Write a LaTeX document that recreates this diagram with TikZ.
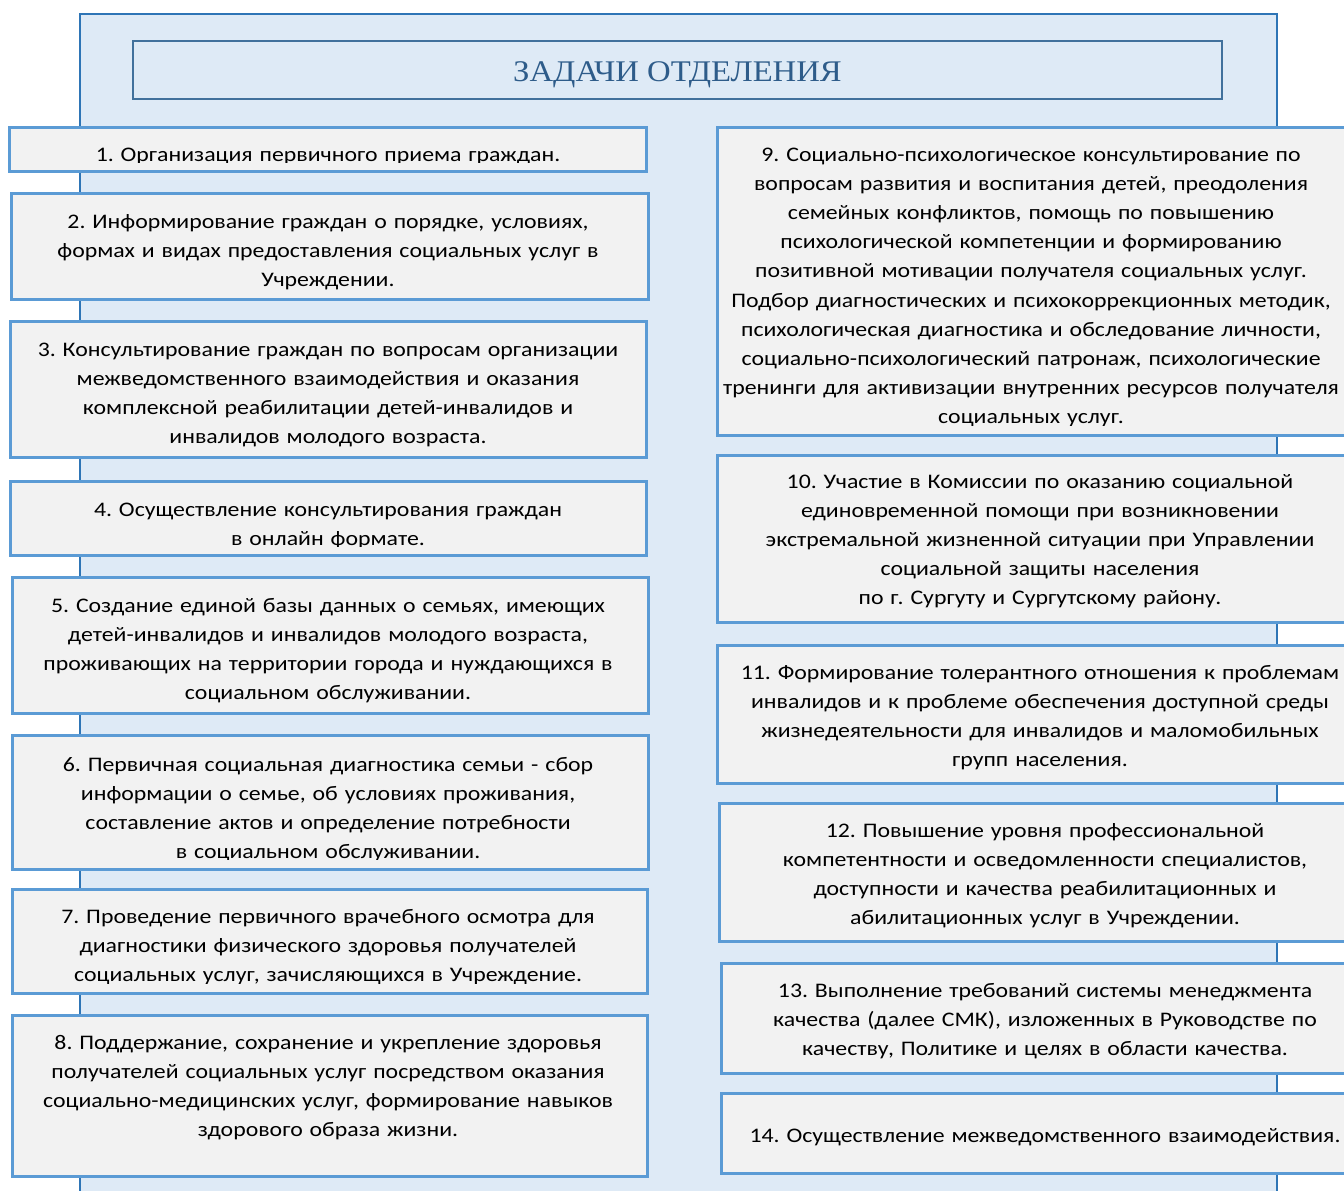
\documentclass[tikz,border=0pt]{standalone}
\usepackage{fontspec}
\setmainfont{Carlito}[FakeStretch=1.15]
\newfontfamily\titlefont{Liberation Serif}[FakeStretch=1.09]
\usepackage{xcolor}
\usetikzlibrary{positioning}
\definecolor{panelblue}{HTML}{DEEAF6}
\definecolor{panelline}{HTML}{2E75B6}
\definecolor{titleline}{HTML}{41719C}
\definecolor{titletext}{HTML}{2E5C8A}
\definecolor{taskfill}{HTML}{F2F2F2}
\definecolor{taskline}{HTML}{5B9BD5}
\frenchspacing

\begin{document}
\begin{tikzpicture}[x=1pt,y=-1pt,
  panel/.style={fill=panelblue,draw=panelline,line width=2.5pt},
  heading/.style={fill=panelblue,draw=titleline,line width=2.5pt},
  task/.style={fill=taskfill,draw=taskline,line width=3pt},
  txt/.style={text width=720pt,align=center,anchor=base,inner sep=0pt,
    font=\fontsize{20.7}{29.2}\selectfont}]
\useasboundingbox (0,0) rectangle (1344,1191);
\clip (0,0) rectangle (1344,1191);
% background
\draw[panel] (80,14) rectangle (1277,1210);
\node[heading,minimum width=1089pt,minimum height=58pt] (title) at (677.5,70) {};
\node[anchor=base,inner sep=0pt,text=titletext,font=\titlefont\fontsize{30}{36}\selectfont]
  (titletext) at (677.5,81.5) {ЗАДАЧИ ОТДЕЛЕНИЯ};
% left column
\draw[task] (9,127) rectangle (646,171);
\begin{scope}\clip (9,127) rectangle (646,162);
\node[txt] (z1) at (328,161.5) {1. Организация первичного приема граждан.};
\end{scope}
\draw[task] (11,193) rectangle (648,299);
\node[txt] (z2) at (328,228) {2. Информирование граждан о порядке, условиях,\\ формах и видах предоставления социальных услуг в\\ Учреждении.};
\draw[task] (10,321) rectangle (646,457);
\node[txt] (z3) at (328,356) {3. Консультирование граждан по вопросам организации\\ межведомственного взаимодействия и оказания\\ комплексной реабилитации детей-инвалидов и\\ инвалидов молодого возраста.};
\draw[task] (10,481) rectangle (646,555);
\begin{scope}\clip (10,481) rectangle (646,546);
\node[txt] (z4) at (328,516) {4. Осуществление консультирования граждан\\ в онлайн формате.};
\end{scope}
\draw[task] (12,577) rectangle (648,713);
\node[txt] (z5) at (328,612) {5. Создание единой базы данных о семьях, имеющих\\ детей-инвалидов и инвалидов молодого возраста,\\ проживающих на территории города и нуждающихся в\\ социальном обслуживании.};
\draw[task] (12,735) rectangle (648,869);
\begin{scope}\clip (12,735) rectangle (648,859);
\node[txt] (z6) at (328,771) {6. Первичная социальная диагностика семьи - сбор\\ информации о семье, об условиях проживания,\\ составление актов и определение потребности\\ в социальном обслуживании.};
\end{scope}
\draw[task] (12,889) rectangle (647,993);
\begin{scope}\clip (12,889) rectangle (647,983);
\node[txt] (z7) at (328,923) {7. Проведение первичного врачебного осмотра для\\ диагностики физического здоровья получателей\\ социальных услуг, зачисляющихся в Учреждение.};
\end{scope}
\draw[task] (12,1015) rectangle (647,1176);
\node[txt] (z8) at (328,1049) {8. Поддержание, сохранение и укрепление здоровья\\ получателей социальных услуг посредством оказания\\ социально-медицинских услуг, формирование навыков\\ здорового образа жизни.};
% right column
\draw[task] (717,127) rectangle (1360,435);
\begin{scope}\clip (717,127) rectangle (1360,425);
\node[txt] (z9) at (1031,161) {9. Социально-психологическое консультирование по\\ вопросам развития и воспитания детей, преодоления\\ семейных конфликтов, помощь по повышению\\ психологической компетенции и формированию\\ позитивной мотивации получателя социальных услуг.\\ Подбор диагностических и психокоррекционных методик,\\ психологическая диагностика и обследование личности,\\ социально-психологический патронаж, психологические\\ тренинги для активизации внутренних ресурсов получателя\\ социальных услуг.};
\end{scope}
\draw[task] (717,455) rectangle (1360,622);
\node[txt] (z10) at (1040,488) {10. Участие в Комиссии по оказанию социальной\\ единовременной помощи при возникновении\\ экстремальной жизненной ситуации при Управлении\\ социальной защиты населения\\ по г. Сургуту и Сургутскому району.};
\draw[task] (717,645) rectangle (1360,783);
\node[txt] (z11) at (1040,679) {11. Формирование толерантного отношения к проблемам\\ инвалидов и к проблеме обеспечения доступной среды\\ жизнедеятельности для инвалидов и маломобильных\\ групп населения.};
\draw[task] (719,803) rectangle (1360,941);
\node[txt] (z12) at (1045,837) {12. Повышение уровня профессиональной\\ компетентности и осведомленности специалистов,\\ доступности и качества реабилитационных и\\ абилитационных услуг в Учреждении.};
\draw[task] (721,963) rectangle (1360,1073);
\node[txt] (z13) at (1045,997) {13. Выполнение требований системы менеджмента\\ качества (далее СМК), изложенных в Руководстве по\\ качеству, Политике и целях в области качества.};
\draw[task] (721,1093) rectangle (1360,1173);
\node[txt] (z14) at (1045,1142) {14. Осуществление межведомственного взаимодействия.};
\end{tikzpicture}
\end{document}
